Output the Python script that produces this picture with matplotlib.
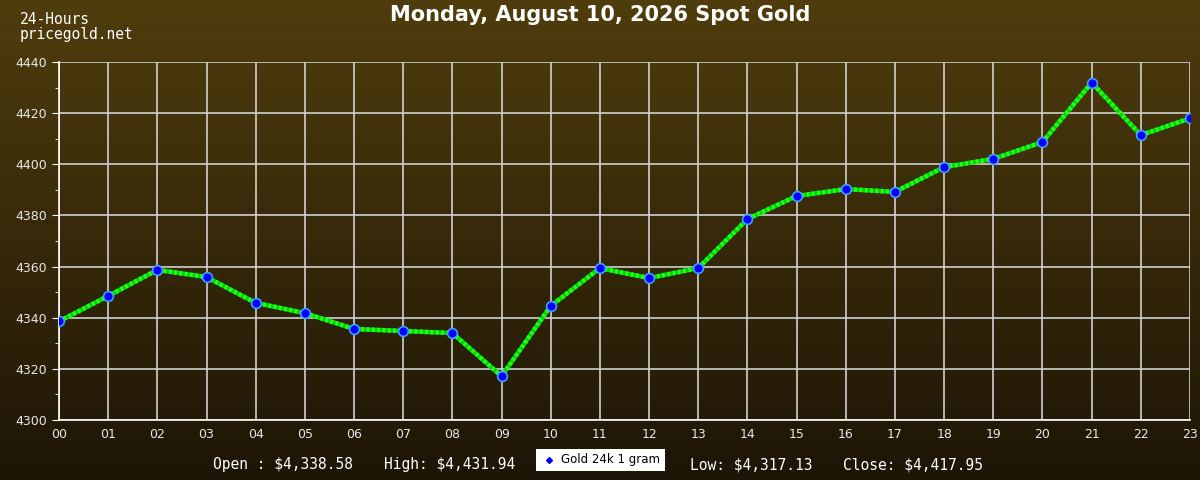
import numpy as np
import matplotlib.pyplot as plt
from matplotlib.ticker import MultipleLocator

# Datos
horas = ['00', '01', '02', '03', '04', '05', '06', '07', '08', '09', '10', '11',
         '12', '13', '14', '15', '16', '17', '18', '19', '20', '21', '22', '23']
precios = [4338.58, 4348.5, 4358.7, 4355.9, 4345.8, 4341.8, 4335.6, 4334.8,
           4334.0, 4317.13, 4344.6, 4359.4, 4355.5, 4359.4, 4378.6, 4387.6,
           4390.3, 4389.2, 4398.9, 4402.1, 4408.7, 4431.94, 4411.4, 4417.95]
titulo = 'Monday, August 10, 2026 Spot Gold'
resumen = ['Open : $4,338.58', 'High: $4,431.94', 'Low: $4,317.13',
           'Close: $4,417.95']
leyenda = 'Gold 24k 1 gram'

fig = plt.figure(figsize=(12, 4.8), dpi=100)

# Fondo con degradado
fondo = fig.add_axes([0, 0, 1, 1], zorder=-10)
arriba = np.array([0x50, 0x3d, 0x0d]) / 255
abajo = np.array([0x1d, 0x15, 0x06]) / 255
t = np.linspace(0, 1, 256)[:, None]
grad = (arriba * (1 - t) + abajo * t)[:, None, :]
grad = np.repeat(grad, 2, axis=1)
fondo.imshow(grad, aspect='auto', extent=[0, 1, 0, 1])
fondo.axis('off')

ax = fig.add_axes([59/1200, 1 - 420/480, (1190 - 59)/1200, (420 - 62)/480])
ax.patch.set_alpha(0)

x = np.arange(len(horas))
ax.plot(x, precios, color='#00d800', lw=3.2, zorder=3, solid_capstyle='butt')
ax.plot(x, precios, color='#22ff22', lw=3.2, ls=(0, (0.6, 0.6)), zorder=3)
ax.plot(x, precios, ls='none', marker='o', ms=7, mfc='#0000ff',
        mec='#3fa0ff', mew=1.2, zorder=4)

ax.set_xlim(0, 23)
ax.set_ylim(4300, 4440)
ax.set_xticks(x)
ax.set_xticklabels(horas)
ax.yaxis.set_major_locator(MultipleLocator(20))
ax.yaxis.set_minor_locator(MultipleLocator(10))
ax.grid(True, which='major', color='#d0d0d0', lw=1.2)

for lado in ['top', 'right']:
    ax.spines[lado].set_visible(False)
for lado in ['left', 'bottom']:
    ax.spines[lado].set_color('white')
    ax.spines[lado].set_linewidth(1.2)

ax.tick_params(axis='y', which='major', colors='white', length=5,
               labelsize=9, labelcolor='#e8e8e8')
ax.tick_params(axis='y', which='minor', colors='white', length=3)
ax.tick_params(axis='x', length=0, pad=6, labelsize=9, labelcolor='#e8e8e8')
for lbl in ax.get_xticklabels() + ax.get_yticklabels():
    lbl.set_fontfamily('DejaVu Sans')

fig.text(0.5, 1 - 15/480, titulo, ha='center', va='center', color='white',
         fontsize=15, fontweight='bold', fontfamily='DejaVu Sans')
fig.text(20/1200, 1 - 19/480, '24-Hours', ha='left', va='center',
         color='white', fontsize=10.5, fontfamily='DejaVu Sans Mono')
fig.text(20/1200, 1 - 34/480, 'pricegold.net', ha='left', va='center',
         color='white', fontsize=10.5, fontfamily='DejaVu Sans Mono')

# Textos de resumen abajo
pos_x = [213, 384, 690, 843]
for texto, px in zip(resumen, pos_x):
    fig.text(px/1200, 1 - 465/480, texto, ha='left', va='center',
             color='white', fontsize=10.5, fontfamily='DejaVu Sans Mono',
             parse_math=False)

# Caja de leyenda
caja = fig.add_axes([536/1200, 1 - 471/480, (665 - 536)/1200, 22/480])
caja.set_xlim(0, 1)
caja.set_ylim(0, 1)
caja.set_xticks([])
caja.set_yticks([])
for s in caja.spines.values():
    s.set_visible(False)
caja.patch.set_facecolor('white')
caja.plot([0.1], [0.5], marker='D', ms=3, color='#0000ff')
caja.text(0.19, 0.52, leyenda, ha='left', va='center', fontsize=8.5,
          color='black', fontfamily='DejaVu Sans')

plt.savefig('out.png', dpi=100)
